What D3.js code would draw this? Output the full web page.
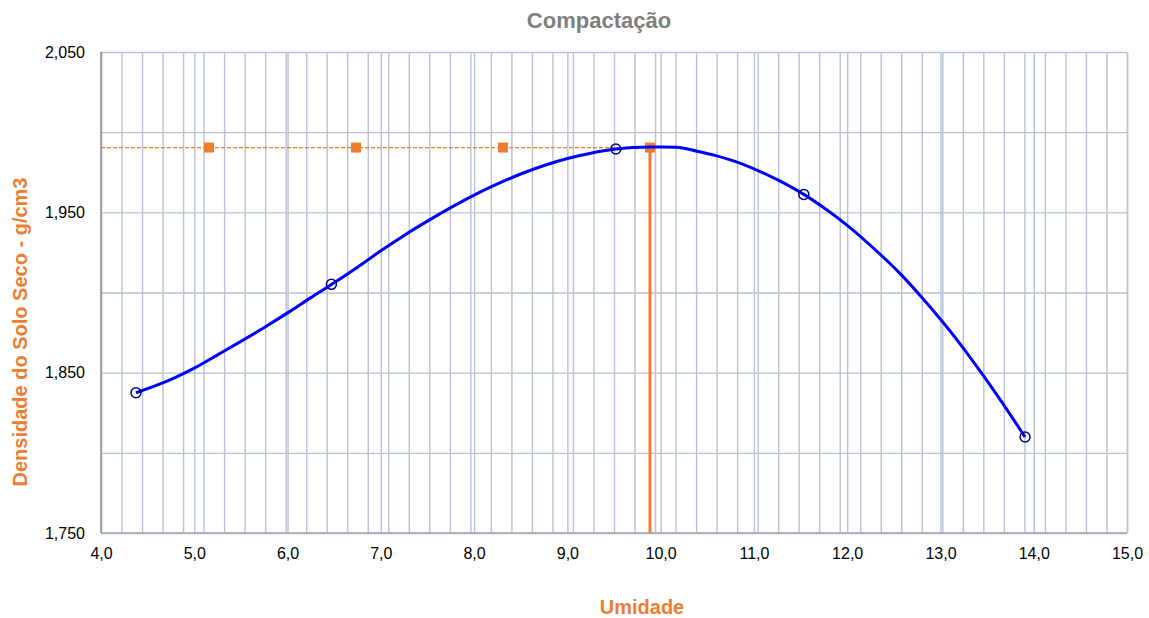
<!DOCTYPE html>
<html>
<head>
<meta charset="utf-8">
<script src="https://cdn.jsdelivr.net/npm/d3@7"></script>
<style>
  html, body { margin: 0; padding: 0; background: #fff; }
  svg { display: block; font-family: "Liberation Sans", Arial, sans-serif; }
</style>
</head>
<body>
<svg id="chart" width="1149" height="618"></svg>
<script>
// ---- Data ----
const titleText = "Compactação";
const xTitle = "Umidade";
const yTitle = "Densidade do Solo Seco - g/cm3";

// Measured test points (umidade %, densidade)
const pointX = [4.375, 6.47, 9.52, 11.535, 13.907];
const pointY = [1837.5, 1905.1, 1989.5, 1961.2, 1809.9];

// Fitted curve
const curveX = [4.375, 4.6, 4.8, 5.0, 5.25, 5.5, 5.75, 6.0, 6.25, 6.5, 6.75, 7.0, 7.25, 7.5, 7.75, 8.0, 8.25, 8.5, 8.75, 9.0, 9.25, 9.52, 9.7, 9.9, 10.17, 10.39, 10.6, 10.82, 11.03, 11.25, 11.535, 11.78, 12.0, 12.35, 12.57, 12.78, 13.0, 13.21, 13.42, 13.64, 13.89, 13.907];
const curveY = [1837.5, 1842.2, 1847.1, 1852.8, 1861.1, 1869.5, 1878.2, 1887.3, 1896.8, 1906.1, 1915.8, 1926.0, 1935.6, 1944.5, 1952.9, 1960.7, 1967.7, 1973.9, 1979.2, 1983.6, 1986.9, 1989.5, 1990.5, 1990.7, 1990.6, 1988.1, 1985.2, 1981.3, 1976.4, 1970.4, 1961.2, 1951.6, 1941.9, 1924.0, 1911.6, 1898.3, 1883.3, 1868.0, 1851.4, 1833.2, 1811.4, 1809.9];

// Reference markers at maximum density
const maxMarkerX = [5.158, 6.734, 8.31, 9.886];
const maxDensity = 1990.4;
const optimumMoisture = 9.886;

// Axes
const xDomain = [4, 15];
const yDomain = [1750, 2050];
const xTicks = [4, 5, 6, 7, 8, 9, 10, 11, 12, 13, 14, 15];
const yLabelTicks = [1750, 1850, 1950, 2050];
const yGridTicks = [1750, 1800, 1850, 1900, 1950, 2000, 2050];
const secondaryGridDivisions = 50;

// ---- Layout ----
const svg = d3.select("#chart");
const L = 101, R = 1127, T = 52, B = 533;

const x = d3.scaleLinear().domain(xDomain).range([L, R]);
const y = d3.scaleLinear().domain(yDomain).range([B, T]);
const x2 = d3.scaleLinear().domain([0, secondaryGridDivisions]).range([L, R]);

const gridColor = "#B8C2D2";
const orange = "#ED7D31";

// secondary vertical grid
svg.append("g")
  .attr("transform", `translate(0,${B})`)
  .call(d3.axisBottom(x2).tickValues(d3.range(0, secondaryGridDivisions + 1)).tickSize(-(B - T)).tickFormat(""))
  .call(g => g.select(".domain").remove())
  .call(g => g.selectAll("line").attr("stroke", gridColor).attr("stroke-width", 1.4));

// major vertical grid
svg.append("g")
  .attr("transform", `translate(0,${B})`)
  .call(d3.axisBottom(x).tickValues(xTicks).tickSize(-(B - T)).tickFormat(""))
  .call(g => g.select(".domain").remove())
  .call(g => g.selectAll("line").attr("stroke", gridColor).attr("stroke-width", 1.4));

// horizontal grid
svg.append("g")
  .attr("transform", `translate(${L},0)`)
  .call(d3.axisLeft(y).tickValues(yGridTicks).tickSize(-(R - L)).tickFormat(""))
  .call(g => g.select(".domain").remove())
  .call(g => g.selectAll("line").attr("stroke", gridColor).attr("stroke-width", 1.4));

// axis lines
svg.append("line").attr("x1", L).attr("x2", L).attr("y1", T).attr("y2", B)
  .attr("stroke", "#8C8C8C").attr("stroke-width", 1.4);
svg.append("line").attr("x1", L).attr("x2", R).attr("y1", B).attr("y2", B)
  .attr("stroke", "#A0A8B8").attr("stroke-width", 1.4);

// x tick labels
const commaFmt = v => d3.format(".1f")(v).replace(".", ",");
svg.append("g")
  .attr("transform", `translate(0,${B})`)
  .call(d3.axisBottom(x).tickValues(xTicks).tickSize(0).tickPadding(15).tickFormat(commaFmt))
  .call(g => g.select(".domain").remove())
  .call(g => g.selectAll("text").attr("font-size", 16).attr("fill", "#000")
    .attr("font-family", "Liberation Sans, Arial, sans-serif"));

// y tick labels
svg.append("g")
  .attr("transform", `translate(${L},0)`)
  .call(d3.axisLeft(y).tickValues(yLabelTicks).tickSize(0).tickPadding(16).tickFormat(d3.format(",")))
  .call(g => g.select(".domain").remove())
  .call(g => g.selectAll("text").attr("font-size", 16).attr("fill", "#000")
    .attr("font-family", "Liberation Sans, Arial, sans-serif"));

// dashed max-density line
svg.append("line")
  .attr("x1", x(xDomain[0])).attr("x2", x(optimumMoisture))
  .attr("y1", y(maxDensity)).attr("y2", y(maxDensity))
  .attr("stroke", orange).attr("stroke-width", 1.3).attr("stroke-dasharray", "4,2");

// vertical optimum line
svg.append("line")
  .attr("x1", x(optimumMoisture)).attr("x2", x(optimumMoisture))
  .attr("y1", y(maxDensity)).attr("y2", y(yDomain[0]))
  .attr("stroke", orange).attr("stroke-width", 3);

// orange square markers
svg.append("g").selectAll("rect").data(maxMarkerX).join("rect")
  .attr("x", d => x(d) - 5).attr("y", y(maxDensity) - 5)
  .attr("width", 10).attr("height", 10).attr("fill", orange);

// curve
const curveData = curveX.map((v, i) => [v, curveY[i]]);
svg.append("path")
  .datum(curveData)
  .attr("fill", "none").attr("stroke", "#0000FF").attr("stroke-width", 3)
  .attr("stroke-linejoin", "round")
  .attr("d", d3.line().x(d => x(d[0])).y(d => y(d[1])).curve(d3.curveMonotoneX));

// measured points
svg.append("g").selectAll("circle").data(pointX.map((v, i) => [v, pointY[i]])).join("circle")
  .attr("cx", d => x(d[0])).attr("cy", d => y(d[1])).attr("r", 5)
  .attr("fill", "none").attr("stroke", "#000080").attr("stroke-width", 1.5);

// title
svg.append("text").attr("x", 599).attr("y", 28).attr("text-anchor", "middle")
  .attr("font-size", 22).attr("font-weight", "bold").attr("fill", "#7F7F7F").text(titleText);

// axis titles
svg.append("text").attr("x", 642).attr("y", 614).attr("text-anchor", "middle")
  .attr("font-size", 20).attr("font-weight", "bold").attr("fill", orange).text(xTitle);

svg.append("text").attr("transform", `translate(27,${332}) rotate(-90)`).attr("text-anchor", "middle")
  .attr("font-size", 20).attr("font-weight", "bold").attr("fill", orange).text(yTitle);
</script>
</body>
</html>
